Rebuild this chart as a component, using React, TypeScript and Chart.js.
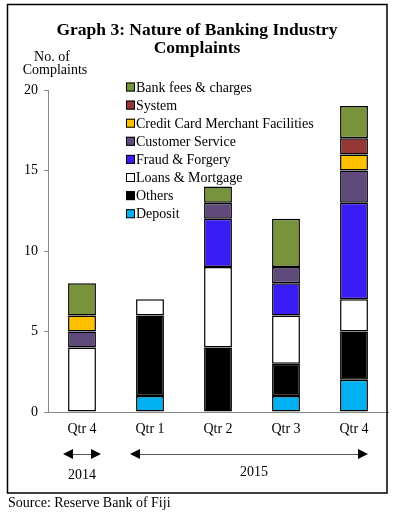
import React, { useEffect, useRef } from "react";
import { Chart, registerables } from "chart.js";

Chart.register(...registerables);

const categories = ["Qtr 4", "Qtr 1", "Qtr 2", "Qtr 3", "Qtr 4"];
const yearLabels = ["2014", "2015"];
const deposit = [0, 1, 0, 1, 2];
const others = [0, 5, 4, 2, 3];
const loans = [4, 1, 5, 3, 2];
const fraud = [0, 0, 3, 2, 6];
const customerService = [1, 0, 1, 1, 2];
const creditCard = [1, 0, 0, 0, 1];
const system = [0, 0, 0, 0, 1];
const bankFees = [2, 0, 1, 3, 2];

const seriesNames = [
  "Deposit",
  "Others",
  "Loans & Mortgage",
  "Fraud & Forgery",
  "Customer Service",
  "Credit Card Merchant Facilities",
  "System",
  "Bank fees & charges",
];
const seriesValues = [deposit, others, loans, fraud, customerService, creditCard, system, bankFees];
const seriesColors = ["#00B0F0", "#000000", "#FFFFFF", "#3A1CF5", "#604A7B", "#FFC000", "#953735", "#77933C"];

const FONT = '"Liberation Serif", "Times New Roman", serif';

const decorPlugin = {
  id: "decor",
  afterDraw(chart: any) {
    const ctx = chart.ctx as CanvasRenderingContext2D;
    const xs = chart.scales.x;
    ctx.save();
    // outer frame
    ctx.strokeStyle = "#000";
    ctx.lineWidth = 1.5;
    ctx.strokeRect(7.5, 4.5, 379.5, 488.5);
    ctx.fillStyle = "#000";
    // titles
    ctx.textAlign = "center";
    ctx.textBaseline = "alphabetic";
    ctx.font = `bold 17.5px ${FONT}`;
    ctx.fillText("Graph 3: Nature of Banking Industry", 197, 35);
    ctx.fillText("Complaints", 197, 53);
    ctx.font = `14px ${FONT}`;
    ctx.fillText("No. of", 52, 61);
    ctx.fillText("Complaints", 55, 74);
    // legend
    ctx.textAlign = "left";
    ctx.textBaseline = "middle";
    const n = seriesNames.length;
    for (let i = 0; i < n; i++) {
      const idx = n - 1 - i;
      const y = 87 + i * 18.1;
      ctx.fillStyle = seriesColors[idx];
      ctx.fillRect(126, y - 4.5, 9, 9);
      ctx.strokeStyle = "#000";
      ctx.lineWidth = 1;
      ctx.strokeRect(126.5, y - 4, 8, 8);
      ctx.fillStyle = "#000";
      ctx.fillText(seriesNames[idx], 136, y + 1);
    }
    // year arrows
    const arrow = (x1: number, x2: number, y: number) => {
      ctx.strokeStyle = "#555";
      ctx.lineWidth = 1;
      ctx.beginPath();
      ctx.moveTo(x1 + 8, y + 0.5);
      ctx.lineTo(x2 - 8, y + 0.5);
      ctx.stroke();
      ctx.fillStyle = "#000";
      ctx.beginPath();
      ctx.moveTo(x1, y);
      ctx.lineTo(x1 + 10, y - 5);
      ctx.lineTo(x1 + 10, y + 5);
      ctx.closePath();
      ctx.fill();
      ctx.beginPath();
      ctx.moveTo(x2, y);
      ctx.lineTo(x2 - 10, y - 5);
      ctx.lineTo(x2 - 10, y + 5);
      ctx.closePath();
      ctx.fill();
    };
    const c0 = xs.getPixelForValue(0);
    const c1 = xs.getPixelForValue(1);
    const c4 = xs.getPixelForValue(4);
    arrow(c0 - 19, c0 + 19, 454);
    arrow(c1 - 20, c4 + 14, 454);
    ctx.fillStyle = "#000";
    ctx.textAlign = "center";
    ctx.textBaseline = "alphabetic";
    ctx.font = `14px ${FONT}`;
    ctx.fillText(yearLabels[0], c0, 479);
    ctx.fillText(yearLabels[1], (c1 + c4) / 2 + 2, 476);
    // source
    ctx.textAlign = "left";
    ctx.fillText("Source: Reserve Bank of Fiji", 8, 507);
    ctx.restore();
  },
};

export default function App() {
  const ref = useRef<HTMLCanvasElement>(null);
  useEffect(() => {
    const canvas = ref.current!;
    const chart = new Chart(canvas, {
      type: "bar",
      data: {
        labels: categories,
        datasets: seriesNames.map((name, i) => ({
          label: name,
          data: seriesValues[i].map((v) => (v === 0 ? null : v)),
          backgroundColor: seriesColors[i],
          borderColor: "#000",
          borderWidth: 1.5,
          borderSkipped: false,
          categoryPercentage: 1,
          barPercentage: 0.41,
        })),
      },
      options: {
        responsive: false,
        animation: false,
        layout: { padding: { left: 0, right: 7, top: 90, bottom: 0 } },
        plugins: {
          legend: { display: false },
          tooltip: { enabled: false },
          title: { display: false },
        },
        scales: {
          x: {
            stacked: true,
            grid: { display: true, drawOnChartArea: false, drawTicks: false },
            border: { color: "#888", width: 1 },
            ticks: { color: "#000", font: { family: FONT, size: 14 }, padding: 9 },
            afterFit: (s: any) => {
              s.height = 101;
            },
          },
          y: {
            stacked: true,
            min: 0,
            max: 20,
            ticks: { stepSize: 5, color: "#000", font: { family: FONT, size: 14 }, padding: 6 },
            grid: { drawOnChartArea: false, drawTicks: true, tickLength: 4, color: "#888" },
            border: { color: "#888", width: 1 },
            afterFit: (s: any) => {
              s.width = 48;
            },
          },
        },
      },
      plugins: [decorPlugin],
    });
    return () => chart.destroy();
  }, []);
  return (
    <div style={{ position: "absolute", left: 0, top: 0, width: 395, height: 513, background: "#fff" }}>
      <canvas ref={ref} width={395} height={513} style={{ display: "block" }} />
    </div>
  );
}
